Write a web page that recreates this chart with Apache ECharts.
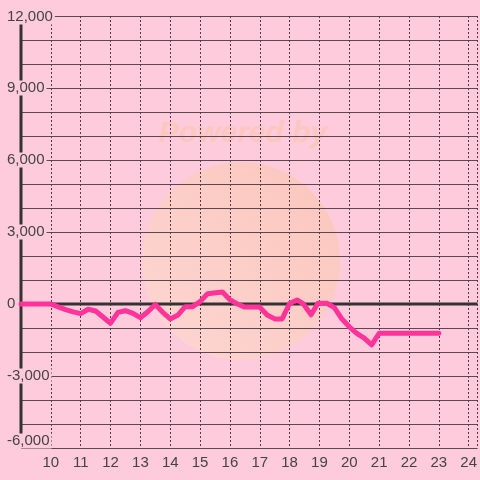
<!DOCTYPE html>
<html><head><meta charset="utf-8">
<script src="https://cdn.jsdelivr.net/npm/echarts@6/dist/echarts.min.js"></script>
<style>html,body{margin:0;padding:0;background:#fdcbdb}#c{width:480px;height:480px}</style>
</head><body><div id="c"></div>
<script>
// hours of day and values
const hours  = [9,10,10.25,10.5,10.75,11,11.25,11.5,12,12.25,12.5,12.75,13,13.25,13.5,13.75,14,14.25,14.5,14.75,15,15.25,15.75,16,16.25,16.5,17,17.25,17.5,17.75,18,18.25,18.45,18.72,18.95,19.25,19.5,19.75,20,20.25,20.5,20.75,21,23];
const values = [0,0,-120,-230,-330,-400,-220,-290,-800,-350,-280,-390,-570,-320,-20,-350,-620,-470,-110,-110,100,430,500,180,0,-130,-130,-460,-620,-620,20,170,20,-450,30,30,-150,-620,-950,-1220,-1420,-1700,-1220,-1220];
const xTicks = [10,11,12,13,14,15,16,17,18,19,20,21,22,23,24];
const yLabeled = [-6000,-3000,0,3000,6000,9000,12000];
const xMin = 9, xMax = 24.3, yMin = -6000, yMax = 12000;

const chart = echarts.init(document.getElementById('c'));
const fmt = v => (v<0?'-':'') + Math.abs(v).toString().replace(/\B(?=(\d{3})+(?!\d))/g, ',');
chart.setOption({
  backgroundColor: '#fdcbdb',
  animation: false,
  grid: {left: 21, right: 0, top: 16, bottom: 32},
  xAxis: {
    type: 'value', min: xMin, max: xMax, interval: 1,
    axisLine: {show: false}, axisTick: {show: false},
    axisLabel: {showMinLabel: false, showMaxLabel: false, color: '#444', fontSize: 15, fontFamily: '"Liberation Sans", Arial', margin: 7,
      formatter: v => xTicks.includes(v) ? String(v) : ''},
    splitLine: {show: true, lineStyle: {color: '#4e3a46', width: 1, type: [2,2]}}
  },
  yAxis: {
    type: 'value', min: yMin, max: yMax, interval: 1000,
    axisLine: {show: false},
    axisTick: {show: false},
    axisLabel: {show: false},
    splitLine: {show: true, lineStyle: {color: '#5b4652', width: 1}}
  },
  series: [
    {type: 'line', z: 1, silent: true, symbol: 'none', data: [[xMin, yMin],[xMin, yMax]], lineStyle: {color: '#333', width: 3}},
    {type: 'line', z: 1, silent: true, symbol: 'none', data: [[xMin, 0],[xMax, 0]], lineStyle: {color: '#333', width: 3}},
    {type: 'line', z: 2, symbol: 'none', data: hours.map((h,i)=>[h, values[i]]),
      lineStyle: {color: '#ff3399', width: 5, join: 'round', cap: 'round'}}
  ]
});

// y tick labels positioned through the y scale, drawn above the axis line with a background
const axisX = chart.convertToPixel({xAxisIndex: 0}, xMin);
const labelGraphics = yLabeled.map(v => {
  let py = chart.convertToPixel({yAxisIndex: 0}, v);
  if (v === yMin) py -= 7;
  if (v === yMax) py += 1;
  return {type: 'text', x: axisX - 15, y: py, z: 100, zlevel: 1, silent: true,
    style: {text: fmt(v), font: '15px "Liberation Sans", Arial', fill: '#444', align: 'left', verticalAlign: 'middle',
      backgroundColor: '#fdcbdb', padding: [0, 2, 0, 1]}};
});
chart.setOption({graphic: [
  {type:'circle', shape:{cx:241, cy:261, r:99}, z:-1, silent:true, style:{
    fill:{type:'linear',x:0,y:1,x2:1,y2:0,colorStops:[{offset:0,color:'rgba(253,218,208,0.75)'},{offset:1,color:'rgba(250,196,178,0.75)'}]}}},
  {type:'text', x:243, y:134, z:-1, silent:true, style:{text:'Powered by', font:'italic bold 30px "Liberation Sans", Arial', fill:'rgba(250,196,178,0.7)', align:'center', verticalAlign:'middle'}}
].concat(labelGraphics)});
</script></body></html>
